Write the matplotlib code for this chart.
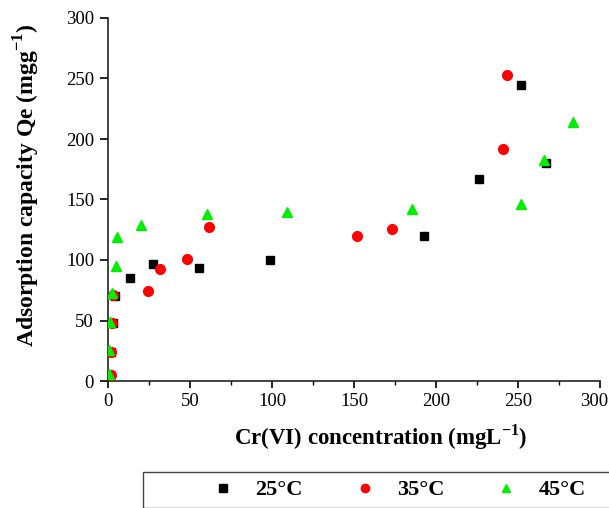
import matplotlib
matplotlib.use("Agg")
import matplotlib.pyplot as plt
from matplotlib.patches import Rectangle
from matplotlib.ticker import MultipleLocator
from matplotlib.transforms import ScaledTranslation

plt.rcParams['font.family'] = ['Liberation Serif', 'DejaVu Serif']
plt.rcParams['mathtext.fontset'] = 'custom'
plt.rcParams['mathtext.rm'] = 'Liberation Serif'
plt.rcParams['mathtext.bf'] = 'Liberation Serif:bold'

# Data
x25 = [1.5, 1.8, 2.8, 4.3, 13.4, 27.6, 55.7, 98.8, 192.9, 226.0, 252.0, 266.9]
y25 = [5.0, 24.0, 48.0, 70.5, 85.4, 96.4, 93.1, 100.0, 119.8, 166.7, 244.3, 180.4]
x35 = [1.6, 1.8, 2.6, 3.2, 24.6, 31.7, 48.4, 61.8, 151.6, 173.0, 240.6, 243.1]
y35 = [5.0, 24.0, 47.6, 71.0, 74.6, 92.3, 100.5, 127.0, 120.1, 125.6, 191.5, 253.2]
x45 = [0.8, 0.8, 1.2, 2.3, 4.7, 5.7, 19.9, 60.6, 109.1, 185.6, 252.0, 265.9, 283.7]
y45 = [5.8, 25.6, 49.0, 72.5, 95.3, 118.7, 129.0, 138.0, 139.7, 142.1, 146.3, 182.6, 214.0]
labels = ['25°C', '35°C', '45°C']
xticks = [0, 50, 100, 150, 200, 250, 300]
yticks = [0, 50, 100, 150, 200, 250, 300]

W, H = 609, 508
fig = plt.figure(figsize=(W / 100, H / 100), dpi=100)
ax = fig.add_axes([108 / W, 1 - 381 / H, 492 / W, 363 / H])

ax.plot(x25, y25, 's', color='black', markersize=6.2, label=labels[0], zorder=3)
ax.plot(x35, y35, 'o', color='red', markersize=7, label=labels[1], zorder=3)
ax.plot(x45, y45, '^', color='#00ee00', markersize=7.5, label=labels[2], zorder=3)

ax.set_xlim(0, 300)
ax.set_ylim(0, 300)
ax.set_xticks(xticks)
ax.set_yticks(yticks)
ax.xaxis.set_minor_locator(MultipleLocator(25))
ax.spines['top'].set_visible(False)
ax.spines['right'].set_visible(False)
for s in ('left', 'bottom'):
    ax.spines[s].set_linewidth(1.2)
    ax.spines[s].set_color('#222222')
ax.tick_params(axis='both', which='major', direction='out', length=5, width=1.2,
               labelsize=13.5, pad=4)
ax.tick_params(axis='x', which='minor', direction='out', length=3, width=1.0)
ax.tick_params(axis='y', which='major', length=6)

ax.set_xlabel(r'Cr(VI) concentration (mgL$^{\mathbf{-1}}$)', fontsize=16.5, fontweight='bold')
ax.set_ylabel(r'Adsorption capacity Qe (mgg$^{\mathbf{-1}}$)', fontsize=17, fontweight='bold')
ax.xaxis.set_label_coords(0.554, -0.155)
ax.xaxis.label.set_va('center')
ax.yaxis.set_label_coords(-0.165, 0.54)
ax.yaxis.label.set_va('center')

fig.canvas.draw()
for t in ax.xaxis.get_major_ticks():
    if t.label1.get_text() == '300':
        t.label1.set_transform(t.label1.get_transform()
                               + ScaledTranslation(-6 / 100, 0, fig.dpi_scale_trans))

# Legend frame
fig.patches.append(Rectangle((143 / W, 0), 1.0, 1 - 472 / H, transform=fig.transFigure,
                             fill=False, edgecolor='#444444', linewidth=1.0))
leg = fig.legend(loc='center left', bbox_to_anchor=(211.6 / W, 1 - 490 / H), ncol=3,
                 frameon=False, prop={'weight': 'bold', 'size': 16}, borderpad=0,
                 handlelength=1.0, handletextpad=0.95, columnspacing=2.3,
                 markerscale=0.85, borderaxespad=0)

fig.savefig('out.png', dpi=100)
